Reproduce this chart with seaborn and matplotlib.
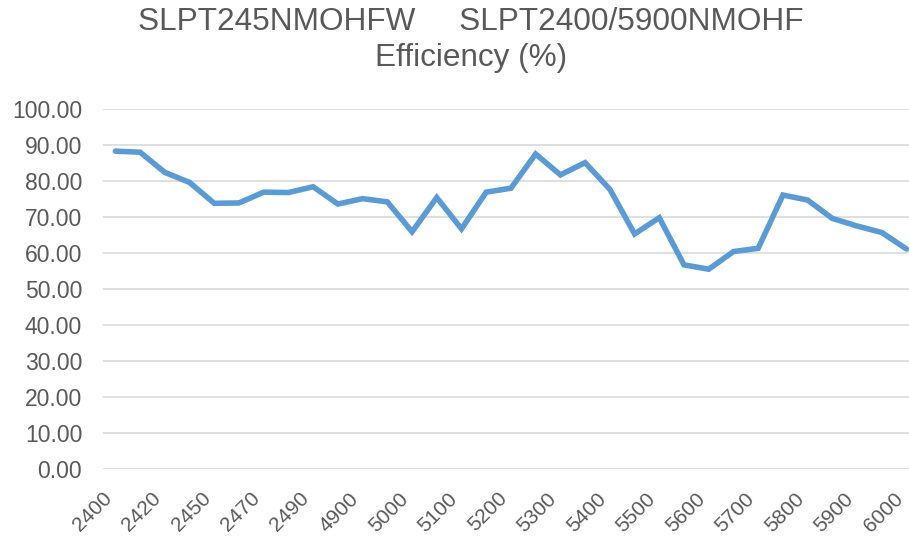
import pandas as pd
import matplotlib.pyplot as plt
import seaborn as sns

# frequency (MHz) categories, every other one is labelled on the axis
freqs = ["2400", "2410", "2420", "2440", "2450", "2460", "2470", "2480", "2490", "2500",
         "4900", "4950", "5000", "5050", "5100", "5150", "5200", "5250", "5300", "5350",
         "5400", "5450", "5500", "5550", "5600", "5650", "5700", "5750", "5800", "5850",
         "5900", "5950", "6000"]
efficiency = [88.3, 88.0, 82.4, 79.6, 73.8, 73.9, 76.9, 76.8, 78.4, 73.6,
              75.1, 74.2, 65.9, 75.4, 66.7, 76.9, 78.0, 87.5, 81.7, 85.1,
              77.7, 65.3, 69.8, 56.7, 55.5, 60.4, 61.3, 76.1, 74.7, 69.6,
              67.5, 65.7, 61.1]
yticks = [0, 10, 20, 30, 40, 50, 60, 70, 80, 90, 100]

df = pd.DataFrame({"idx": range(len(freqs)), "eff": efficiency})

sns.set_style("white")
plt.rcParams['font.family'] = ['Liberation Sans', 'DejaVu Sans']

fig = plt.figure(figsize=(9.09, 5.41), dpi=100)
ax = fig.add_axes([103 / 909, 72 / 541, 806 / 909, 360 / 541])

sns.lineplot(data=df, x="idx", y="eff", ax=ax, color="#5B9BD5",
             linewidth=4, sort=False, solid_joinstyle="miter")

ax.set_ylim(0, 100)
ax.set_xlim(-0.5, 32.1)
ax.set_yticks(yticks)
ax.set_yticklabels([f"{v:.2f}" for v in yticks], fontsize=16.5, color="#595959")
ax.set_xticks(range(0, len(freqs), 2))
ax.set_xticklabels(freqs[::2], rotation=45, ha="right", va="bottom",
                   rotation_mode="anchor", fontsize=15, color="#595959")
ax.tick_params(axis="y", length=0, pad=15)
ax.tick_params(axis="x", length=0, pad=24)
ax.grid(axis="y", color="#D9D9D9", linewidth=1.2)
ax.set_axisbelow(True)
for s in ax.spines.values():
    s.set_visible(False)
ax.set_xlabel("")
ax.set_ylabel("")

fig.text(471 / 909, 1 - 22 / 541, "SLPT245NMOHFW     SLPT2400/5900NMOHF",
         ha="center", va="center", fontsize=22.7, color="#595959")
fig.text(471 / 909, 1 - 58 / 541, "Efficiency (%)",
         ha="center", va="center", fontsize=22.7, color="#595959")

plt.savefig("out.png", dpi=100)
plt.close()
